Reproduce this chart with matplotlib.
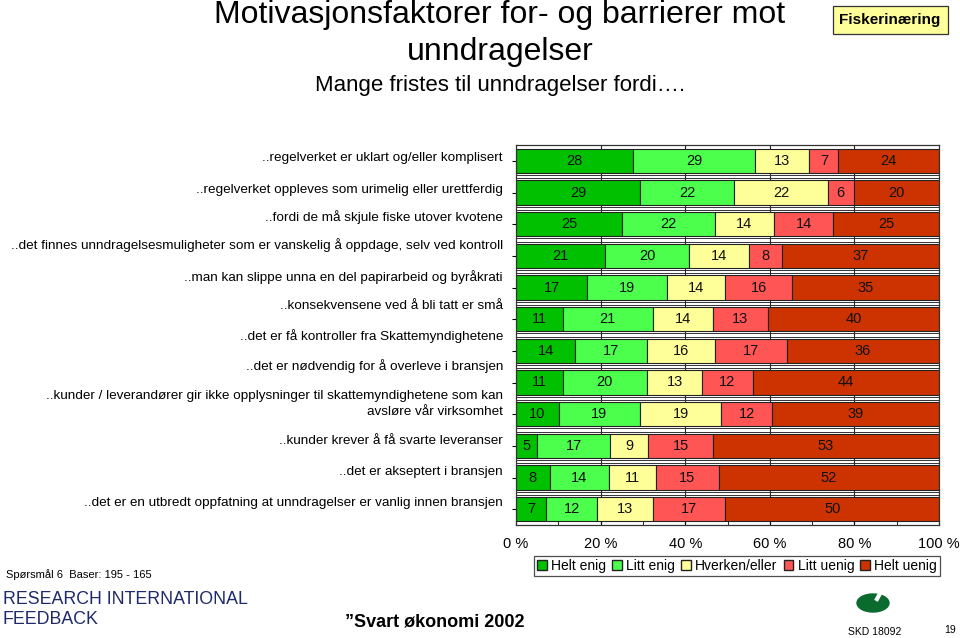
import numpy as np
import matplotlib.pyplot as plt
import matplotlib.transforms as mtransforms
from matplotlib.patches import Patch, Ellipse

plt.rcParams['font.family'] = ['Liberation Sans', 'DejaVu Sans']

statements = [
    "..regelverket er uklart og/eller komplisert",
    "..regelverket oppleves som urimelig eller urettferdig",
    "..fordi de må skjule fiske utover kvotene",
    "..det finnes unndragelsesmuligheter som er vanskelig å oppdage, selv ved kontroll",
    "..man kan slippe unna en del papirarbeid og byråkrati",
    "..konsekvensene ved å bli tatt er små",
    "..det er få kontroller fra Skattemyndighetene",
    "..det er nødvendig for å overleve i bransjen",
    "..kunder / leverandører gir ikke opplysninger til skattemyndighetene som kan\navsløre vår virksomhet",
    "..kunder krever å få svarte leveranser",
    "..det er akseptert i bransjen",
    "..det er en utbredt oppfatning at unndragelser er vanlig innen bransjen",
]

helt_enig = [28, 29, 25, 21, 17, 11, 14, 11, 10, 5, 8, 7]
litt_enig = [29, 22, 22, 20, 19, 21, 17, 20, 19, 17, 14, 12]
hverken = [13, 22, 14, 14, 14, 14, 16, 13, 19, 9, 11, 13]
litt_uenig = [7, 6, 14, 8, 16, 13, 17, 12, 12, 15, 15, 17]
helt_uenig = [24, 20, 25, 37, 35, 40, 36, 44, 39, 53, 52, 50]

series_names = ["Helt enig", "Litt enig", "Hverken/eller", "Litt uenig", "Helt uenig"]
colors = ["#00C000", "#4CFF4C", "#FFFF99", "#FF5555", "#CC3300"]
x_ticks = [0, 20, 40, 60, 80, 100]

# in the original slide the statement labels sit a little above their bars (pixels)
label_shift = [3, 3, 7, 11, 10, 13, 15, 16, 10, 5, 6, 6]

data = np.array([helt_enig, litt_enig, hverken, litt_uenig, helt_uenig], dtype=float)
shares = data / data.sum(axis=0) * 100  # 100 % stacked
y = np.arange(len(statements))

fig = plt.figure(figsize=(9.6, 6.38), dpi=100)
ax = fig.add_axes([516 / 960, 1 - 525 / 638, 423 / 960, 380 / 638])

# grid lines behind the bars
for gx in [20, 40, 60, 80]:
    ax.axvline(gx, color='#222222', lw=0.8, zorder=0)
for b in np.arange(0.5, len(statements) - 0.5, 1):
    ax.axhline(b - 0.05, color='#333333', lw=0.7, zorder=0)
    ax.axhline(b + 0.05, color='#333333', lw=0.7, zorder=0)

left = np.zeros(len(statements))
for i, name in enumerate(series_names):
    ax.barh(y, shares[i], left=left, height=0.77, color=colors[i],
            edgecolor='#222222', linewidth=0.8, zorder=2)
    for yy, l, w, v in zip(y, left, shares[i], data[i]):
        ax.text(l + w / 2, yy, f"{int(v)}", ha='center', va='center',
                fontsize=10.5, color='#111111', zorder=3)
    left += shares[i]

ax.set_xlim(0, 100)
ax.set_ylim(len(statements) - 0.5, -0.5)
ax.set_yticks(y)
ax.set_yticklabels([])
ax.set_xticks(x_ticks)
ax.set_xticklabels([f"{t} %" for t in x_ticks], fontsize=10.5)
ax.set_xticks(np.arange(10, 100, 20), minor=True)
ax.tick_params(axis='x', which='both', direction='in', length=4, pad=9)
ax.tick_params(axis='y', direction='out', length=3)
for s in ax.spines.values():
    s.set_color('#333333')
    s.set_linewidth(0.9)

# statement labels
trans = mtransforms.blended_transform_factory(ax.transAxes, ax.transData)
for yy, txt, sh in zip(y, statements, label_shift):
    off = mtransforms.offset_copy(trans, fig=fig, x=-13, y=sh, units='dots')
    ax.text(0, yy, txt, transform=off, ha='right', va='center', fontsize=9.7,
            linespacing=1.4, clip_on=False)

handles = [Patch(facecolor=c, edgecolor='#222222', label=n) for c, n in zip(colors, series_names)]
leg = fig.legend(handles=handles, loc='center', bbox_to_anchor=(737 / 960, 1 - 566 / 638),
                 ncol=5, fontsize=10, frameon=True, fancybox=False, edgecolor='#222222',
                 handlelength=0.7, handleheight=0.7, handletextpad=0.3, columnspacing=0.45,
                 borderpad=0.2, borderaxespad=0)
leg.get_frame().set_linewidth(0.9)

# titles
fig.text(500 / 960, 1 - 15 / 638, "Motivasjonsfaktorer for- og barrierer mot",
         ha='center', va='center', fontsize=23)
fig.text(500 / 960, 1 - 52 / 638, "unndragelser", ha='center', va='center', fontsize=23)
fig.text(500 / 960, 1 - 85 / 638, "Mange fristes til unndragelser fordi….",
         ha='center', va='center', fontsize=16)

fig.text(890 / 960, 1 - 20 / 638, "Fiskerinæring", ha='center', va='center',
         fontsize=11, fontweight='bold',
         bbox=dict(boxstyle='square,pad=0.45', facecolor='#FFFF99', edgecolor='#333333', lw=0.9))

# footer
fig.text(6 / 960, 1 - 575 / 638, "Spørsmål 6  Baser: 195 - 165", ha='left', va='center', fontsize=8)
fig.text(3 / 960, 1 - 599 / 638, "RESEARCH INTERNATIONAL",
         ha='left', va='center', fontsize=12.8, color='#1F2A6B')
fig.text(3 / 960, 1 - 620 / 638, "FEEDBACK", ha='left', va='center',
         fontsize=12.8, color='#1F2A6B')
fig.text(345 / 960, 1 - 622 / 638, "”Svart økonomi 2002", ha='left', va='center',
         fontsize=13, fontweight='bold')
fig.text(875 / 960, 1 - 632 / 638, "SKD 18092", ha='center', va='center', fontsize=7.5)
fig.text(950 / 960, 1 - 630 / 638, "19", ha='center', va='center', fontsize=7.5)

# simple logo
logo = fig.add_axes([855 / 960, 1 - 615 / 638, 36 / 960, 32 / 638])
logo.set_xlim(0, 36)
logo.set_ylim(32, 0)
logo.axis('off')
logo.add_patch(Ellipse((18, 20), 32, 18, color='#0B6B2E'))
logo.plot([22, 28], [16, 5], color='white', lw=3)

fig.savefig('out.png', dpi=100)
